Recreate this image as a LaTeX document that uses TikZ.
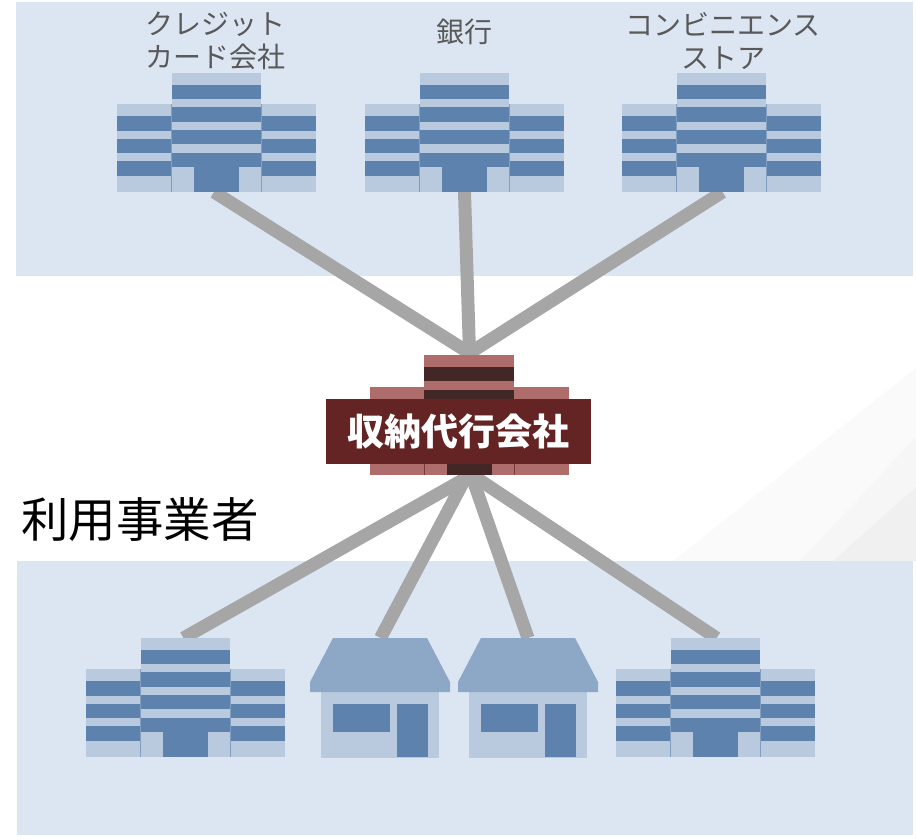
\documentclass[tikz,border=0pt]{standalone}
\usepackage{fontspec}
\setmainfont{Noto Sans CJK JP}
\definecolor{panel}{HTML}{DCE6F2}
\definecolor{blued}{HTML}{5E82AE}
\definecolor{bluel}{HTML}{B9CADF}
\definecolor{roofc}{HTML}{8DA7C7}
\definecolor{redl}{HTML}{AE6C6B}
\definecolor{redd}{HTML}{432727}
\definecolor{redm}{HTML}{632423}
\definecolor{link}{HTML}{A6A6A6}
\definecolor{lab}{HTML}{595959}
\tikzset{
  x=1pt,y=-1pt,
  linkline/.style={draw=link,line width=13pt,shorten >=-7pt},
  anchorbox/.style={inner sep=0pt,outer sep=0pt,minimum width=#1},
  lbl/.style={text=lab,font=\fontsize{28}{33}\selectfont,align=center,inner sep=0pt},
  office/.pic={
    \fill[bluel] (0,31) rectangle (54,119);
    \fill[bluel] (145,31) rectangle (199,119);
    \fill[bluel] (55,0) rectangle (144,119);
    \foreach \a/\b in {43/58,66/80,88/103}{
      \fill[blued] (0,\a) rectangle (54,\b);
      \fill[blued] (145,\a) rectangle (199,\b);
    }
    \fill[blued] (55,12) rectangle (144,26);
    \fill[blued] (55,34) rectangle (144,49);
    \fill[blued] (55,57) rectangle (144,71);
    \fill[blued] (55,80) rectangle (144,94);
    \fill[blued] (77,94) rectangle (122,118.5);
    \fill[blued!60!bluel] (54,31) rectangle (55,119);
    \fill[blued!60!bluel] (144,31) rectangle (145,119);
  },
  house/.pic={
    \fill[bluel] (11,54) rectangle (129,120);
    \fill[roofc] (23,0) -- (117,0) -- (140,44) -- (140,54) -- (0,54) -- (0,44) -- cycle;
    \fill[blued] (23,66) rectangle (80,94);
    \fill[blued] (87,66) rectangle (118,119);
  }
}
\begin{document}
\begin{tikzpicture}
\useasboundingbox (0,0) rectangle (916,839);
\fill[white] (0,0) rectangle (916,839);
% faint background wedges
\fill[black!2] (673,561) -- (916,368) -- (916,561) -- cycle;
\fill[black!3.5] (800,561) -- (916,437) -- (916,561) -- cycle;
\fill[black!6] (833,561) -- (916,487) -- (916,561) -- cycle;
% panels
\fill[panel] (16,2) rectangle (913,276);
\fill[panel] (17,561) rectangle (913,835);
% building anchor nodes
\node[anchorbox=199pt,minimum height=119pt,anchor=north west] (a) at (117,73) {};
\node[anchorbox=199pt,minimum height=119pt,anchor=north west] (b) at (365,73) {};
\node[anchorbox=199pt,minimum height=119pt,anchor=north west] (c) at (622,73) {};
\node[anchorbox=199pt,minimum height=119pt,anchor=north west] (d) at (86,638) {};
\node[anchorbox=140pt,minimum height=120pt,anchor=north west] (e) at (310,638) {};
\node[anchorbox=140pt,minimum height=120pt,anchor=north west] (f) at (458,638) {};
\node[anchorbox=199pt,minimum height=119pt,anchor=north west] (g) at (616,638) {};
\coordinate (hubtop) at (469.5,353);
\coordinate (hubbot) at (470,477);
% connectors
\draw[linkline] ([xshift=-2.5pt]a.south) -- (hubtop);
\draw[linkline] (b.south) -- (hubtop);
\draw[linkline] ([xshift=1pt]c.south) -- (hubtop);
\draw[linkline] ([xshift=-2pt]d.north) -- ([xshift=-2pt]hubbot);
\draw[linkline] ([xshift=0.5pt]e.north) -- ([xshift=-4pt]hubbot);
\draw[linkline] (f.north) -- ([xshift=2pt]hubbot);
\draw[linkline] ([xshift=1pt]g.north) -- ([xshift=5pt]hubbot);
% buildings
\pic at (a.north west) {office};
\pic at (b.north west) {office};
\pic at (c.north west) {office};
\pic at (d.north west) {office};
\pic at (g.north west) {office};
\pic at (e.north west) {house};
\pic at (f.north west) {house};
% hub building
\fill[redl] (424,355) rectangle (514,399);
\fill[redl] (370,387) rectangle (569,399);
\fill[redd] (424,367) rectangle (514,381);
\fill[redd] (424,390) rectangle (514,399);
\fill[redl] (370,464) rectangle (569,475);
\fill[redd] (447,464) rectangle (492,475);
\fill[redm!70!redl] (424,464) rectangle (425,475);
\fill[redm!70!redl] (514,464) rectangle (515,475);
\node[fill=redm,text=white,font=\fontsize{37}{40}\selectfont\bfseries,minimum width=265pt,minimum height=65pt,inner sep=0pt,outer sep=0pt,anchor=north west] (hub) at (326,399) {収納代行会社};
% labels
\node[lbl] (la) at (215,41) {クレジット\\カード会社};
\node[lbl] (lb) at (464,32) {銀行};
\node[lbl] (lc) at (723,41) {コンビニエンス\\ストア};
\node[text=black,font=\fontsize{47.5}{50}\selectfont,inner sep=0pt] (users) at (140,520) {利用事業者};
\end{tikzpicture}
\end{document}
